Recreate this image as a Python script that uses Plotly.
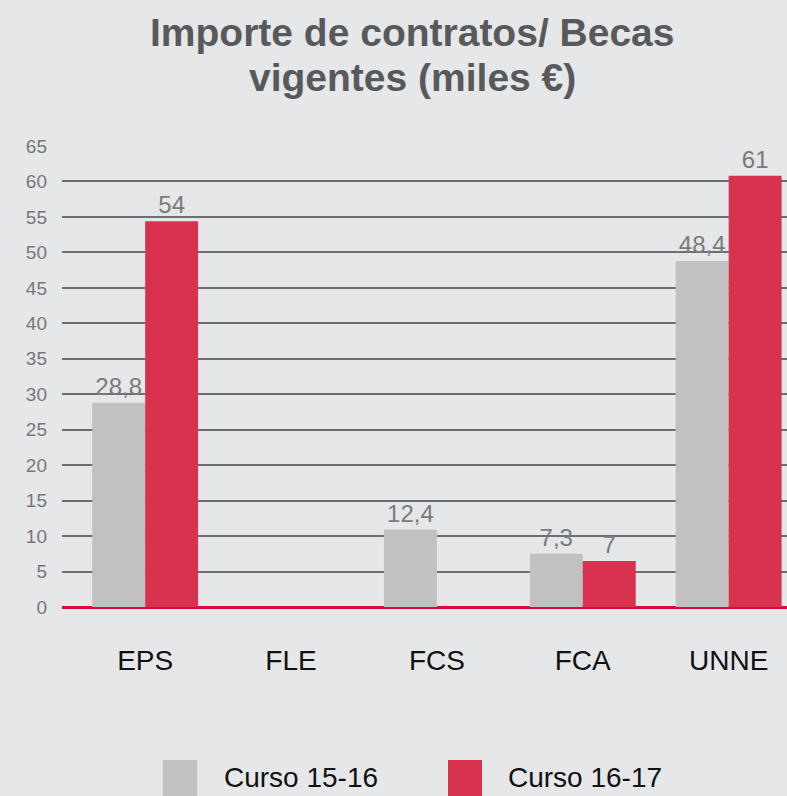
import plotly.graph_objects as go

categories = ["EPS", "FLE", "FCS", "FCA", "UNNE"]
curso_1516 = [28.8, None, 10.9, 7.5, 48.8]
curso_1617 = [54.4, None, None, 6.5, 60.8]
labels_1516 = ["28,8", "", "12,4", "7,3", "48,4"]
labels_1617 = ["54", "", "", "7", "61"]
series_names = ["Curso 15-16", "Curso 16-17"]
title_lines = ["Importe de contratos/ Becas", "vigentes (miles €)"]
y_ticks = list(range(0, 70, 5))

GRAY = "#c0c1c0"
RED = "#d7334f"
BG = "#e6e7e9"
FONT = "Liberation Sans, Arial"

W, H = 787, 796
L, T, B = 62, 146, 189

fig = go.Figure()
for vals, labs, name, col in [(curso_1516, labels_1516, series_names[0], GRAY),
                              (curso_1617, labels_1617, series_names[1], RED)]:
    fig.add_trace(go.Bar(
        x=categories, y=vals, name=name, marker=dict(color=col, line=dict(width=0)),
        text=labs, textposition="outside", cliponaxis=False,
        textfont=dict(family=FONT, size=24, color="#7a7a7a"),
        showlegend=False,
    ))

fig.update_layout(
    width=W, height=H,
    paper_bgcolor=BG, plot_bgcolor=BG,
    margin=dict(l=L, r=0, t=T, b=B),
    barmode="group", bargap=0.274, bargroupgap=0,
    font=dict(family=FONT),
    xaxis=dict(range=[-0.57, 4.40], showgrid=False, showline=False, zeroline=False,
               tickfont=dict(size=28, color="#111111"), ticks="", ticklabelstandoff=34),
    yaxis=dict(range=[0, 65], tickvals=y_ticks, showgrid=True, gridcolor="#6e6e70", gridwidth=1.5,
               zeroline=True, zerolinecolor="#d0103a", zerolinewidth=3,
               tickfont=dict(size=19, color="#777777"), ticks="", ticklabelstandoff=14,
               showline=False),
)

pw = W - L
ph = H - T - B
def px(x):
    return (x - L) / pw
def py(y):
    return (H - B - y) / ph

for line, yc in zip(title_lines, [33, 78]):
    fig.add_annotation(text="<b>" + line + "</b>", x=px(412), y=py(yc),
                       xref="paper", yref="paper", showarrow=False,
                       xanchor="center", yanchor="middle",
                       font=dict(family=FONT, size=39, color="#58595b"))

# legend drawn manually
for name, col, sx, tx in [(series_names[0], GRAY, 163, 222), (series_names[1], RED, 448, 506)]:
    fig.add_shape(type="rect", xref="paper", yref="paper",
                  x0=px(sx), x1=px(sx + 34), y0=py(800), y1=py(760),
                  fillcolor=col, line=dict(width=0))
    fig.add_annotation(text=name, xref="paper", yref="paper", x=px(tx), y=py(777),
                       xanchor="left", yanchor="middle", showarrow=False,
                       font=dict(family=FONT, size=28, color="#111111"))

fig.write_html("out.html", config={"displayModeBar": False},
               post_script="document.body.style.margin='0';document.body.style.background='#e6e7e9';document.documentElement.style.background='#e6e7e9';")
